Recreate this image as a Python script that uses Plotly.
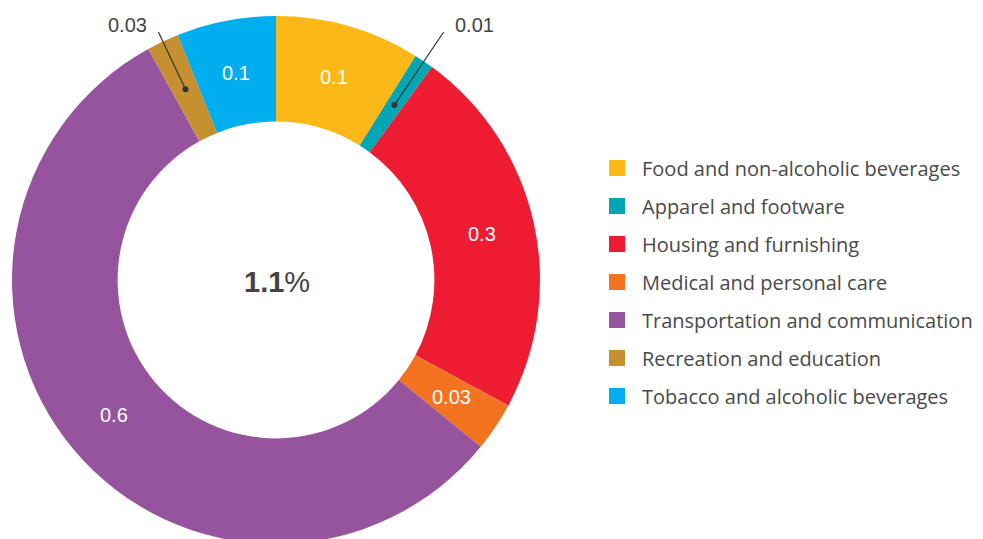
import math
import plotly.graph_objects as go

categories = ["Food and non-alcoholic beverages", "Apparel and footware", "Housing and furnishing",
              "Medical and personal care", "Transportation and communication",
              "Recreation and education", "Tobacco and alcoholic beverages"]
values = [0.0975, 0.0132, 0.251, 0.033, 0.617, 0.0217, 0.0667]
value_labels = ["0.1", "0.01", "0.3", "0.03", "0.6", "0.03", "0.1"]
outside = [False, True, False, False, False, True, False]
colors = ["#FBB817", "#00A6B4", "#EE1C33", "#F37321", "#96539E", "#C59030", "#00AEEF"]
total_label = "1.1"

W, H = 975, 539
OFF = 8  # page body margin; layout below given in page pixels
CX, CY, R = 276, 280, 264
HOLE = 0.6
TEXT_Y = 25

fcx, fcy = CX - OFF, CY - OFF
fig = go.Figure()
fig.add_trace(go.Pie(
    labels=categories, values=values, sort=False, direction="clockwise", rotation=0,
    hole=HOLE, marker=dict(colors=colors, line=dict(width=0)),
    textinfo="none",
    domain=dict(x=[(fcx - R) / W, (fcx + R) / W], y=[(H - fcy - R) / H, (H - fcy + R) / H]),
    showlegend=False, hoverinfo="label+value",
))

# invisible pixel axes (page coordinates) for annotations / shapes
fig.update_xaxes(range=[OFF, W + OFF], visible=False, fixedrange=True)
fig.update_yaxes(range=[H + OFF, OFF], visible=False, fixedrange=True)
fig.add_trace(go.Scatter(x=[], y=[], showlegend=False))

total = sum(values)
cum = 0
anns = []
shapes = []
rm = R * (1 + HOLE) / 2
for v, lab, o in zip(values, value_labels, outside):
    mid = (cum + v / 2) / total * 2 * math.pi
    cum += v
    dx, dy = CX + rm * math.sin(mid), CY - rm * math.cos(mid)
    if not o:
        anns.append(dict(x=dx, y=dy, xref="x", yref="y", text=lab, showarrow=False,
                         xanchor="center", yanchor="middle",
                         font=dict(family="Liberation Sans, Arial", size=20, color="white")))
        continue
    re = (CY - 32) / math.cos(mid)
    ex, ey = CX + re * math.sin(mid), CY - re * math.cos(mid)
    shapes.append(dict(type="line", xref="x", yref="y", x0=dx, y0=dy, x1=ex, y1=ey,
                       line=dict(color="#333333", width=1.2)))
    shapes.append(dict(type="circle", xref="x", yref="y", x0=dx - 3, x1=dx + 3, y0=dy - 3, y1=dy + 3,
                       fillcolor="#333333", line=dict(width=0)))
    right = math.sin(mid) > 0
    anns.append(dict(x=ex + (9 if right else -9), y=TEXT_Y, xref="x", yref="y", text=lab,
                     showarrow=False, xanchor="left" if right else "right", yanchor="middle",
                     font=dict(family="Liberation Sans, Arial", size=20, color="#444444")))

# center label
anns.append(dict(x=CX + 1, y=CY + 2, xref="x", yref="y",
                 text=f"<b>{total_label}</b>%", showarrow=False,
                 font=dict(family="Liberation Sans, Arial", size=29, color="#444444")))

# manual legend
LX, LY0, LDY = 609, 168, 38
for i, (c, col) in enumerate(zip(categories, colors)):
    y = LY0 + i * LDY
    shapes.append(dict(type="rect", xref="x", yref="y", x0=LX, x1=LX + 16, y0=y - 8, y1=y + 8,
                       fillcolor=col, line=dict(width=0)))
    anns.append(dict(x=LX + 31, y=y, xref="x", yref="y", text=c, showarrow=False,
                     xanchor="left", yanchor="middle",
                     font=dict(family="Open Sans", size=20, color="#4a4a4a")))

fig.update_layout(width=W, height=H, margin=dict(l=0, r=0, t=0, b=0),
                  paper_bgcolor="white", plot_bgcolor="white",
                  annotations=anns, shapes=shapes, showlegend=False)
fig.write_html("out.html")
